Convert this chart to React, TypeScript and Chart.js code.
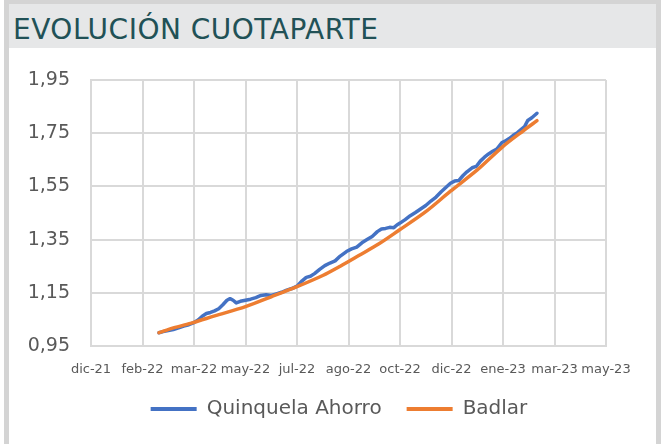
import React, { useEffect, useRef } from "react";
import { Chart, registerables } from "chart.js";

Chart.register(...registerables);

// X axis: days counted from the first tick (dic-21); one tick every 50 days
const xTickLabels = ["dic-21", "feb-22", "mar-22", "may-22", "jul-22", "ago-22", "oct-22", "dic-22", "ene-23", "mar-23", "may-23"];
const xTickStep = 50;
const yTickValues = [0.95, 1.15, 1.35, 1.55, 1.75, 1.95];

const quinquelaDays = [66, 70, 75, 80, 85, 90, 95, 100, 104, 108, 112, 116, 120, 124, 128, 132, 135, 138, 141, 145, 150, 155, 160, 165, 170, 175, 180, 185, 190, 195, 200, 205, 209, 213, 217, 222, 227, 232, 237, 242, 248, 253, 258, 263, 268, 273, 278, 282, 286, 290, 294, 297, 300, 305, 310, 315, 320, 325, 330, 335, 340, 345, 349, 353, 357, 361, 365, 370, 374, 378, 382, 386, 390, 394, 399, 402, 406, 410, 414, 418, 421, 424, 428, 433];
const quinquelaValues = [1.000, 1.004, 1.008, 1.012, 1.018, 1.025, 1.030, 1.038, 1.048, 1.062, 1.072, 1.076, 1.082, 1.090, 1.105, 1.122, 1.128, 1.122, 1.112, 1.118, 1.122, 1.126, 1.132, 1.140, 1.143, 1.140, 1.146, 1.152, 1.160, 1.166, 1.175, 1.195, 1.208, 1.212, 1.222, 1.238, 1.252, 1.262, 1.270, 1.288, 1.305, 1.315, 1.322, 1.338, 1.350, 1.362, 1.380, 1.390, 1.392, 1.396, 1.395, 1.405, 1.412, 1.425, 1.440, 1.452, 1.465, 1.478, 1.495, 1.510, 1.530, 1.548, 1.562, 1.570, 1.572, 1.590, 1.605, 1.620, 1.625, 1.645, 1.660, 1.672, 1.682, 1.690, 1.715, 1.720, 1.730, 1.742, 1.752, 1.765, 1.775, 1.798, 1.808, 1.825];

const badlarDays = [66, 80, 99, 120, 150, 175, 200, 225, 242, 260, 280, 299, 325, 349, 375, 399, 420, 433];
const badlarValues = [1.000, 1.018, 1.038, 1.063, 1.098, 1.135, 1.173, 1.215, 1.250, 1.290, 1.335, 1.385, 1.455, 1.532, 1.612, 1.697, 1.760, 1.797];

const FONT = "'DejaVu Sans', Verdana, sans-serif";
const TEXT = "#595959";
const GRID = "#d9d9d9";

// Moves the legend block so it is centred like the original (under the plot, slightly left)
const legendPlacement = {
  id: "legendPlacement",
  afterLayout(chart: any) {
    const lg = chart.legend;
    if (!lg) return;
    const h = lg.bottom - lg.top;
    lg.left = 72;
    lg.right = 606;
    lg.top = 374;
    lg.bottom = 374 + h;
  },
};

export default function App() {
  const canvasRef = useRef<HTMLCanvasElement | null>(null);

  useEffect(() => {
    const canvas = canvasRef.current;
    if (!canvas) return;
    const chart = new Chart(canvas, {
      type: "line",
      data: {
        datasets: [
          {
            label: "Quinquela Ahorro",
            data: quinquelaDays.map((d, i) => ({ x: d, y: quinquelaValues[i] })),
            borderColor: "#4472C4",
            backgroundColor: "#4472C4",
            borderWidth: 3.5,
            pointRadius: 0,
            tension: 0,
            borderCapStyle: "round",
            borderJoinStyle: "round",
            order: 1,
          },
          {
            label: "Badlar",
            data: badlarDays.map((d, i) => ({ x: d, y: badlarValues[i] })),
            borderColor: "#ED7D31",
            backgroundColor: "#ED7D31",
            borderWidth: 3.5,
            pointRadius: 0,
            tension: 0.3,
            borderCapStyle: "round",
            order: 0,
          },
        ],
      },
      options: {
        animation: false,
        responsive: false,
        maintainAspectRatio: false,
        layout: { padding: { left: 9, right: 58, top: 80, bottom: 9 } },
        plugins: {
          tooltip: { enabled: false },
          title: { display: false },
          legend: {
            display: true,
            position: "bottom",
            labels: {
              color: TEXT,
              font: { family: FONT, size: 20 },
              boxWidth: 46,
              boxHeight: 4,
              padding: 25,
              sort: (a: any, b: any) => a.datasetIndex - b.datasetIndex,
              generateLabels: (c: any) => {
                const items = (Chart.defaults.plugins.legend.labels as any).generateLabels(c);
                return items.map((it: any) => ({ ...it, fillStyle: it.strokeStyle, lineWidth: 0 }));
              },
            },
          },
        },
        scales: {
          x: {
            type: "linear",
            min: 0,
            max: (xTickLabels.length - 1) * xTickStep,
            afterBuildTicks: (scale: any) => {
              scale.ticks = xTickLabels.map((_, i) => ({ value: i * xTickStep }));
            },
            afterFit: (scale: any) => {
              scale.height = 34;
            },
            ticks: {
              color: TEXT,
              font: { family: FONT, size: 13 },
              padding: 16,
              maxRotation: 0,
              autoSkip: false,
              callback: (v: any) => xTickLabels[Math.round(Number(v) / xTickStep)],
            },
            grid: { color: GRID, lineWidth: 2, drawTicks: false },
            border: { color: GRID, width: 2 },
          },
          y: {
            type: "linear",
            min: yTickValues[0],
            max: yTickValues[yTickValues.length - 1],
            afterBuildTicks: (scale: any) => {
              scale.ticks = yTickValues.map((v) => ({ value: v }));
            },
            afterFit: (scale: any) => {
              scale.width = 82;
            },
            ticks: {
              color: TEXT,
              font: { family: FONT, size: 19 },
              padding: 21,
              callback: (v: any) => Number(v).toFixed(2).replace(".", ","),
            },
            grid: { color: GRID, lineWidth: 2, drawTicks: false },
            border: { color: GRID, width: 2 },
          },
        },
      },
      plugins: [legendPlacement],
    });
    return () => chart.destroy();
  }, []);

  return (
    <div style={{ position: "absolute", left: 0, top: 0, width: 664, height: 444, background: "#ffffff", overflow: "hidden" }}>
      <div style={{ position: "absolute", left: 4, top: 0, width: 657, height: 444, background: "#d4d4d4" }} />
      <div style={{ position: "absolute", left: 9, top: 4, width: 647, height: 44, background: "#e6e7e8" }} />
      <div style={{ position: "absolute", left: 9, top: 48, width: 647, height: 396, background: "#ffffff" }} />
      <div
        style={{
          position: "absolute",
          left: 13,
          top: 16,
          fontFamily: FONT,
          fontSize: 28,
          lineHeight: "28px",
          letterSpacing: "0.5px",
          color: "#215156",
          whiteSpace: "nowrap",
        }}
      >
        EVOLUCIÓN CUOTAPARTE
      </div>
      <canvas ref={canvasRef} width={664} height={444} style={{ position: "absolute", left: 0, top: 0, width: 664, height: 444 }} />
    </div>
  );
}
